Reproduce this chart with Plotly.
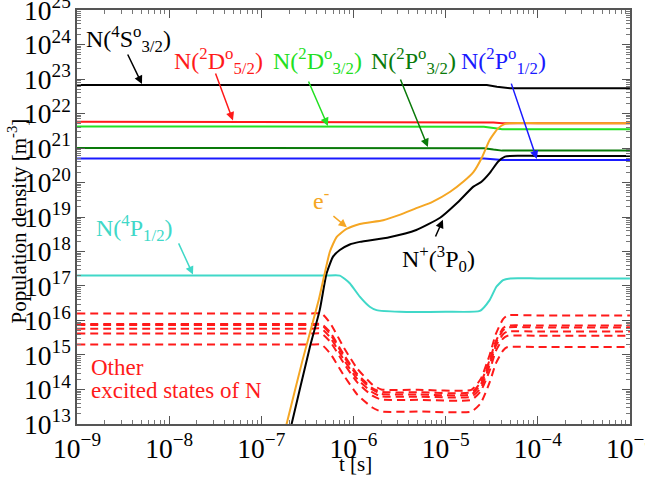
import plotly.graph_objects as go

# ---------------- data ----------------
t_flat_4S = [1e-9, 2.8e-5, 3.6e-5, 5e-5, 1e-3]
n_4S = [6.7e22, 6.7e22, 6.0e22, 5.4e22, 5.4e22]

t_flat = [1e-9, 2.6e-5, 3.3e-5, 4.1e-5, 1e-3]
n_2D52 = [5.8e21, 5.75e21, 5.5e21, 5.2e21, 5.2e21]
n_2D32 = [4.2e21, 4.15e21, 3.8e21, 3.5e21, 3.5e21]
n_2P32 = [1.0e21, 9.9e20, 9.0e20, 8.4e20, 8.4e20]
n_2P12 = [5.0e20, 4.95e20, 4.7e20, 4.5e20, 4.5e20]

t_e = [1.8e-7, 1.88e-7, 2.8e-7, 4.2e-7, 4.8e-7, 5.55e-7, 6.55e-7, 8.4e-7, 1.17e-6,
       2.1e-6, 3.16e-6, 4.8e-6, 7.2e-6, 1.12e-5, 1.55e-5, 2.0e-5, 2.5e-5, 3.0e-5,
       3.7e-5, 4.4e-5, 5.0e-5, 1e-4, 1e-3]
n_e = [6.3e12, 1e13, 7.1e14, 4.0e16, 1.95e17, 1.0e18, 2.6e18, 4.5e18, 6.3e18,
       8.1e18, 1.15e19, 1.8e19, 2.75e19, 5.4e19, 1.05e20, 2.0e20, 5.6e20, 1.7e21,
       3.7e21, 5.0e21, 5.25e21, 5.25e21, 5.25e21]

t_ion = [2.04e-7, 2.13e-7, 3.37e-7, 4.3e-7, 5.1e-7, 6.0e-7, 7.1e-7, 9.1e-7, 1.17e-6,
         2.45e-6, 4.8e-6, 8.7e-6, 1.32e-5, 2.0e-5, 2.45e-5, 3.0e-5, 3.7e-5, 4.4e-5,
         5.0e-5, 1e-4, 1e-3]
n_ion = [6.3e12, 1e13, 1.74e15, 2.0e16, 2.3e17, 7.1e17, 1.1e18, 1.6e18, 1.9e18,
         2.6e18, 4.2e18, 9.5e18, 2.5e19, 7.6e19, 1.05e20, 1.86e20, 4.0e20, 5.6e20,
         5.9e20, 5.9e20, 5.9e20]

t_4P = [1e-9, 1e-7, 5e-7, 7.1e-7, 9.1e-7, 1.17e-6, 1.5e-6, 1.78e-6, 3.16e-6, 1e-5,
        2.35e-5, 3.0e-5, 3.55e-5, 4.2e-5, 5.0e-5, 1e-4, 1e-3]
n_4P = [2.0e17, 2.0e17, 2.0e17, 2.0e17, 1.2e17, 4.9e16, 2.5e16, 2.0e16, 1.8e16, 1.8e16,
        1.9e16, 3.9e16, 9.5e16, 1.48e17, 1.66e17, 1.66e17, 1.66e17]

t_other = [1e-9, 1e-8, 1e-7, 3.5e-7, 4.5e-7, 5.6e-7, 7.9e-7, 1.1e-6, 1.6e-6, 2.0e-6,
           5e-6, 1.9e-5, 2.4e-5, 3.0e-5, 3.5e-5, 4.2e-5, 4.7e-5, 1e-4, 1e-3]
n_other = [
    [1.6e16, 1.6e16, 1.6e16, 1.6e16, 1.6e16, 8.3e15, 1.6e15, 4.0e14, 1.4e14, 1.0e14, 9.8e13, 9.8e13, 2.0e14, 1.0e15, 4.0e15, 1.1e16, 1.4e16, 1.4e16, 1.4e16],
    [7.9e15, 7.9e15, 7.9e15, 7.9e15, 7.9e15, 4.5e15, 1.0e15, 2.8e14, 1.1e14, 8.5e13, 8.3e13, 8.3e13, 1.6e14, 7.1e14, 2.5e15, 6.0e15, 7.1e15, 7.1e15, 7.1e15],
    [7.4e15, 7.4e15, 7.4e15, 7.4e15, 7.4e15, 4.0e15, 8.9e14, 2.5e14, 1.0e14, 7.4e13, 7.2e13, 7.2e13, 1.4e14, 6.3e14, 2.2e15, 5.2e15, 6.3e15, 6.3e15, 6.3e15],
    [5.8e15, 5.8e15, 5.8e15, 5.8e15, 5.8e15, 3.2e15, 7.1e14, 2.0e14, 8.3e13, 6.3e13, 6.2e13, 6.2e13, 1.1e14, 5.0e14, 1.8e15, 4.0e15, 4.8e15, 4.8e15, 4.8e15],
    [4.2e15, 4.2e15, 4.2e15, 4.2e15, 4.2e15, 2.4e15, 5.6e14, 1.6e14, 6.6e13, 5.1e13, 5.0e13, 5.0e13, 8.9e13, 3.5e14, 1.3e15, 3.0e15, 3.6e15, 3.6e15, 3.6e15],
    [2.0e15, 2.0e15, 2.0e15, 2.0e15, 2.0e15, 1.1e15, 2.5e14, 7.1e13, 3.0e13, 2.3e13, 2.3e13, 2.3e13, 4.0e13, 1.6e14, 5.6e14, 1.35e15, 1.7e15, 1.7e15, 1.7e15],
]

FONT = "Liberation Serif"
C_RED = "#ff1a1a"
C_LG = "#22e022"
C_DG = "#0a7a0a"
C_BLUE = "#1a1aff"
C_OR = "#f5a623"
C_CY = "#40d8c8"

fig = go.Figure()

for row in n_other:
    fig.add_trace(go.Scatter(x=t_other, y=row, mode="lines",
                             line=dict(color=C_RED, width=2, dash="8px,5px", shape="spline", smoothing=0.5)))

fig.add_trace(go.Scatter(x=t_4P, y=n_4P, mode="lines",
                         line=dict(color=C_CY, width=2, shape="spline", smoothing=0.5)))
fig.add_trace(go.Scatter(x=t_flat, y=n_2P12, mode="lines", line=dict(color=C_BLUE, width=2)))
fig.add_trace(go.Scatter(x=t_flat, y=n_2P32, mode="lines", line=dict(color=C_DG, width=2)))
fig.add_trace(go.Scatter(x=t_flat, y=n_2D32, mode="lines", line=dict(color=C_LG, width=2)))
fig.add_trace(go.Scatter(x=t_flat, y=n_2D52, mode="lines", line=dict(color=C_RED, width=2)))
fig.add_trace(go.Scatter(x=t_flat_4S, y=n_4S, mode="lines", line=dict(color="black", width=2)))
fig.add_trace(go.Scatter(x=t_ion, y=n_ion, mode="lines",
                         line=dict(color="black", width=2, shape="spline", smoothing=0.5)))
fig.add_trace(go.Scatter(x=t_e, y=n_e, mode="lines",
                         line=dict(color=C_OR, width=2, shape="spline", smoothing=0.5)))

# arrows: (tail_logx, tail_logy, head_logx, head_logy, color)
arrows = [
    (-8.458, 23.754, -8.295, 22.855, "black"),
    (-7.503, 23.20, -7.308, 21.80, C_RED),
    (-6.495, 22.97, -6.278, 21.64, C_LG),
    (-5.497, 23.03, -5.193, 21.03, C_DG),
    (-4.293, 22.91, -4.011, 20.68, C_BLUE),
    (-6.234, 19.06, -6.072, 18.70, C_OR),
    (-5.117, 18.39, -5.03, 18.92, "black"),
    (-7.905, 18.28, -7.742, 17.33, C_CY),
]
for tx, ty, hx, hy, col in arrows:
    fig.add_annotation(x=hx, y=hy, ax=tx, ay=ty, xref="x", yref="y", axref="x", ayref="y",
                       text="", showarrow=True, arrowhead=2, arrowsize=1.1, arrowwidth=1.5,
                       arrowcolor=col)

labels = [
    (-8.92, 24.16, "N(<sup>4</sup>S<sup>o</sup><sub>3/2</sub>)", "black", 24),
    (-7.97, 23.52, "N(<sup>2</sup>D<sup>o</sup><sub>5/2</sub>)", C_RED, 24),
    (-6.895, 23.52, "N(<sup>2</sup>D<sup>o</sup><sub>3/2</sub>)", C_LG, 24),
    (-5.832, 23.52, "N(<sup>2</sup>P<sup>o</sup><sub>3/2</sub>)", C_DG, 24),
    (-4.86, 23.52, "N(<sup>2</sup>P<sup>o</sup><sub>1/2</sub>)", C_BLUE, 24),
    (-6.46, 19.51, "e<sup>-</sup>", C_OR, 24),
    (-5.50, 17.77, "N<sup>+</sup>(<sup>3</sup>P<sub>0</sub>)", "black", 24),
    (-8.82, 18.67, "N(<sup>4</sup>P<sub>1/2</sub>)", C_CY, 24),
    (-8.875, 14.65, "Other", C_RED, 23),
    (-8.875, 13.98, "excited states of N", C_RED, 23),
]
for x, y, txt, col, sz in labels:
    fig.add_annotation(x=x, y=y, xref="x", yref="y", text=txt, showarrow=False,
                       xanchor="left", yanchor="middle",
                       font=dict(family=FONT, size=sz, color=col))

# axis titles
fig.add_annotation(x=0.503, y=-0.097, xref="paper", yref="paper", text="t [s]",
                   showarrow=False, xanchor="center", yanchor="middle",
                   font=dict(family=FONT, size=21, color="black"))
fig.add_annotation(x=-0.108, y=0.49, xref="paper", yref="paper",
                   text="Population density [m<sup>-3</sup>]", textangle=-90,
                   showarrow=False, xanchor="center", yanchor="middle",
                   font=dict(family=FONT, size=21, color="black"))

axis_common = dict(
    type="log", dtick=1, exponentformat="power", showexponent="all",
    ticks="inside", ticklen=8, tickwidth=1, tickcolor="#555",
    showline=True, linecolor="#555", linewidth=1.5, mirror="ticks",
    showgrid=False, zeroline=False, automargin=False,
    ticklabeloverflow="allow",
    tickfont=dict(family=FONT, size=22, color="black"),
    minor=dict(ticks="inside", ticklen=4, tickcolor="#777", dtick="D1", showgrid=False),
)

fig.update_layout(
    width=645, height=480,
    margin=dict(l=77, r=15, t=10, b=56),
    plot_bgcolor="white", paper_bgcolor="white",
    showlegend=False,
    font=dict(family=FONT),
    xaxis=dict(range=[-9.0005, -2.9995], **axis_common),
    yaxis=dict(range=[12.9995, 25.0005], **axis_common),
)

fig.write_html("out.html", config={"displayModeBar": False},
               post_script="document.body.style.margin='0px';")
